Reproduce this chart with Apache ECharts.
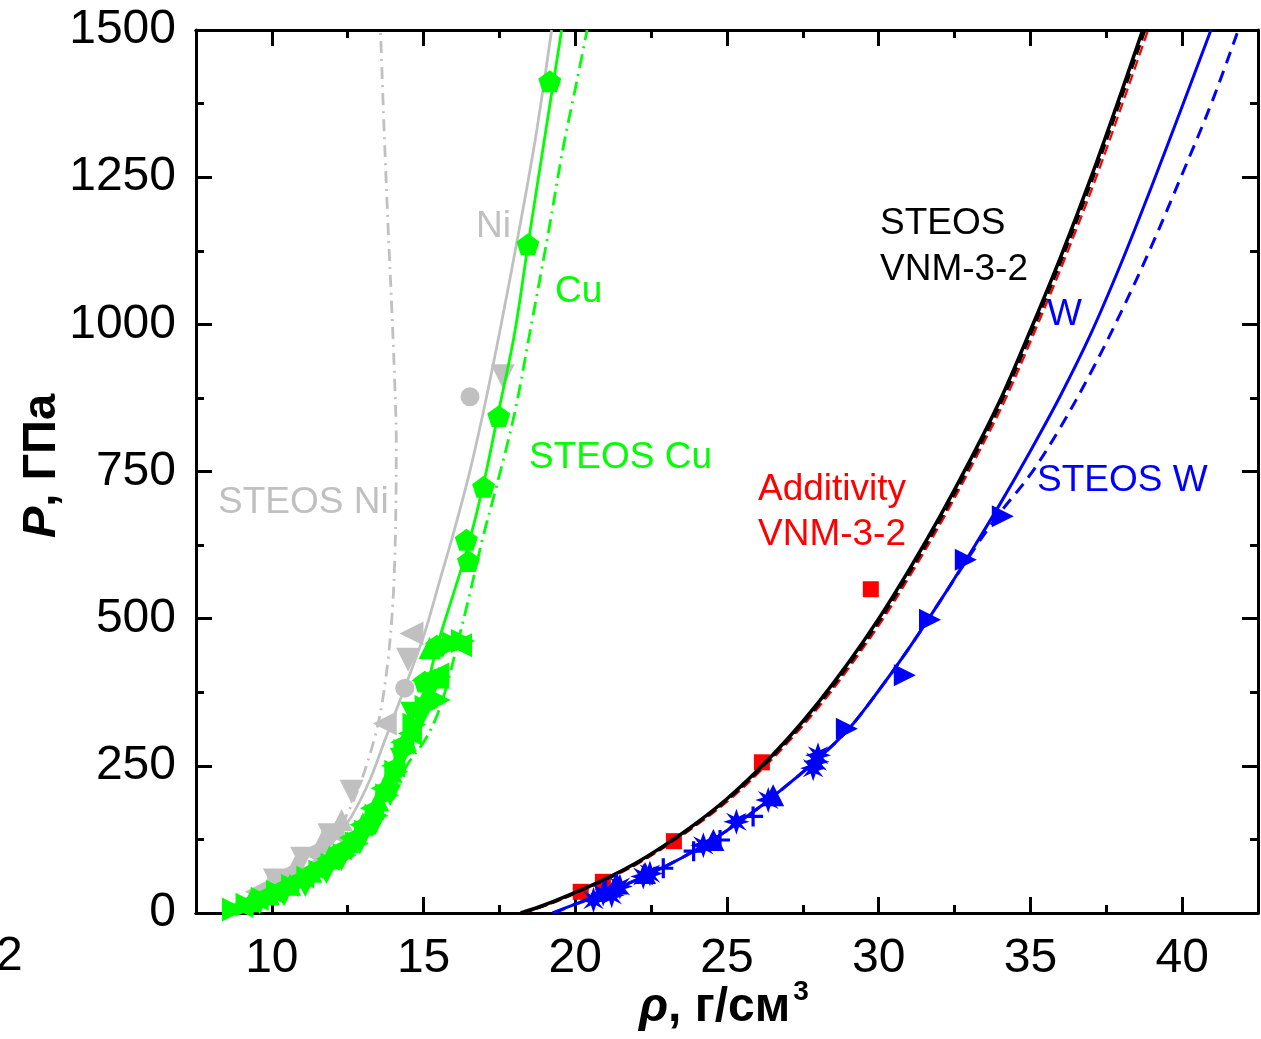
<!DOCTYPE html>
<html>
<head>
<meta charset="utf-8">
<script src="https://cdn.jsdelivr.net/npm/echarts@6.0.0/dist/echarts.min.js"></script>
<style>html,body{margin:0;padding:0;background:#fff}#c{width:1261px;height:1039px}</style>
</head>
<body>
<div id="c"></div>
<script>
// ---------- data ----------
const xMajorTicks = [10, 15, 20, 25, 30, 35, 40];
const xMinorTicks = [12.5, 17.5, 22.5, 27.5, 32.5, 37.5];
const yTicks = [0, 250, 500, 750, 1000, 1250, 1500];

// lines
const niLine = [[9.2,0],[10,28],[11,66],[12,120],[12.6,162],[13.23,226],[13.7,290],[14.38,383],[15,470],[15.54,566],[16,648],[16.5,745],[16.96,849],[17.5,985],[18.17,1166],[18.7,1320],[19.22,1500]];
const steosNi = [[9.2,0],[10,28],[11,68],[12,125],[12.5,170],[12.95,225],[13.4,300],[13.65,362],[13.85,440],[13.98,520],[14.05,600],[14.09,700],[14.1,800],[14.05,900],[13.95,1030],[13.83,1166],[13.7,1330],[13.58,1500]];
const cuLine = [[8.8,0],[9.5,12],[10,22],[11,52],[12,92],[13,148],[14,228],[14.5,280],[15,360],[15.43,450],[16,545],[16.45,620],[16.96,725],[17.46,849],[18.0,985],[18.45,1138],[19.0,1320],[19.55,1500]];
const steosCu = [[8.9,0],[10,22],[11,50],[12,88],[13,140],[14,210],[14.5,255],[15,290],[15.4,330],[15.76,385],[16.09,452],[16.5,537],[16.96,639],[17.4,724],[18.0,849],[18.5,985],[19.11,1155],[19.6,1300],[20.0,1400],[20.39,1500]];
const steosVnm = [[18.2,0],[19,14],[20,35],[21,58],[22,85],[23,117],[24,153],[25,194],[26,242],[27,296],[28,357],[29,425],[30,500],[31,583],[32,672],[33,768],[34,871],[35,990],[36,1115],[37,1250],[38,1395],[38.7,1500]];
const steosVnmDash = [[18.25,0],[19.05,14],[20.05,35],[21.05,58],[22.05,85],[23.05,117],[24.05,153],[25.05,194],[26.05,242],[27.05,296],[28.06,357],[29.06,425],[30.07,500],[31.07,583],[32.07,672],[33.07,768],[34.07,871],[35.07,990],[36.07,1115],[37.07,1250],[38.07,1395],[38.78,1500]];
const additivity = [[18.3,0],[19.1,14],[20.1,35],[21.1,58],[22.1,85],[23.1,117],[24.1,153],[25.12,194],[26.12,242],[27.12,296],[28.14,357],[29.14,425],[30.15,500],[31.15,583],[32.15,672],[33.15,768],[34.16,871],[35.16,990],[36.16,1115],[37.17,1250],[38.17,1395],[38.88,1500]];
const wLine = [[19.25,0],[20,15],[21,34],[22,56],[23,80],[24,108],[25,140],[26,177],[27,218],[28,262],[29,312],[30,378],[31,450],[32,528],[33,610],[34,695],[35,785],[36,880],[37,985],[38,1105],[39,1235],[40,1370],[40.95,1500]];
const steosW = [[19.3,0],[20,15],[21,34],[22,56],[23,80],[24,108],[25,140],[26,177],[27,218],[28,262],[29,312],[30,378],[31,450],[32,528],[33.3,630],[34,680],[35,745],[36,826],[37,919],[38,1022],[39,1134],[40,1255],[41,1380],[41.85,1500]];

// markers
const cuPent = [[19.16,1413],[18.44,1136],[17.48,844],[16.98,724],[16.41,634],[16.48,598],[15.43,454],[15.04,393]];
const cuRight = [[8.75,6],[9.2,14],[9.7,24],[10.2,36],[10.7,46],[11.2,60],[11.6,70],[12.0,82],[12.4,98],[12.8,118],[13.1,138],[13.45,165],[13.8,200],[14.1,240],[14.4,275],[14.7,320],[15.1,350],[15.5,362],[16.0,458],[16.3,462]];
const cuLeft = [[9.0,12],[9.5,24],[10.0,36],[10.5,48],[11.0,62],[11.4,76],[11.85,92],[12.25,110],[12.6,128],[12.95,150],[13.3,178],[13.65,212],[14.0,250],[14.3,290],[14.55,305],[15.0,395],[15.45,405],[16.2,455]];
const cuUp = [[9.3,20],[9.9,32],[10.6,48],[11.3,70],[11.9,96],[12.5,120],[13.0,152],[13.5,192],[13.95,240],[14.4,296],[15.1,370],[15.5,400],[15.2,450]];
const cuDown = [[9.6,16],[10.4,30],[11.1,46],[11.8,68],[12.3,90],[12.9,118],[13.4,150],[13.9,200],[14.25,262],[14.6,340],[14.9,330],[15.35,390]];
const niLeft = [[14.6,475],[13.72,322],[9.5,36],[10.3,62],[11.3,103],[12.0,138]];
const niDown = [[17.61,912],[14.49,430],[12.63,206],[10.1,55],[11.0,92],[11.9,132]];
const niUp = [[9.9,45],[10.8,82],[11.65,120],[12.3,158]];
const niCircle = [[16.53,877],[14.38,382]];
const redSquares = [[20.18,36],[20.91,53],[23.25,122],[26.15,256],[29.74,550]];
const wRight = [[34.09,674],[32.87,600],[31.69,498],[30.86,404],[28.95,313]];
const wStar = [[20.6,22],[20.92,33],[21.2,30],[21.47,45],[22.24,62],[22.46,67],[24.22,115],[25.31,155],[26.36,192],[27.84,246],[27.95,257],[28.0,268]];
const wUp = [[21.36,50],[22.3,68],[24.55,124],[26.52,200]];
const wCross = [[21.0,38],[22.9,76],[24.77,124],[25.86,164],[23.9,105]];

// annotation texts
const labels = [
  {t:'STEOS Ni', x:218, y:503, c:'#c0c0c0'},
  {t:'Ni', x:476, y:227, c:'#c0c0c0'},
  {t:'Cu', x:555, y:292, c:'#00ff00'},
  {t:'STEOS Cu', x:529, y:458, c:'#00ff00'},
  {t:'STEOS', x:880, y:224, c:'#000000'},
  {t:'VNM-3-2', x:880, y:270, c:'#000000'},
  {t:'W', x:1047, y:315, c:'#0000ff'},
  {t:'Additivity', x:758, y:490, c:'#ff0000'},
  {t:'VNM-3-2', x:758, y:535, c:'#ff0000'},
  {t:'STEOS W', x:1037, y:481, c:'#0000ff'}
];

// ---------- chart ----------
const FF = '"Liberation Sans", Arial, Helvetica, sans-serif';
const GREEN = '#00ff00', GRAY = '#c0c0c0', BLUE = '#0000ff', RED = '#ff0000';
const SYM = {
  pent: 'path://M0,-10L9.51,-3.09L5.88,8.09L-5.88,8.09L-9.51,-3.09Z',
  right: 'path://M-8,-8L8,0L-8,8Z',
  left: 'path://M8,-8L-8,0L8,8Z',
  down: 'path://M-8,-8L8,-8L0,8Z',
  up: 'path://M-8,8L8,8L0,-8Z',
  star: 'path://M0,-10L2,-4L8,-7L4,-2L10,0L4,2L8,7L2,4L0,10L-2,4L-8,7L-4,2L-10,0L-4,-2L-8,-7L-2,-4Z',
  cross: 'path://M-1.6,-10L1.6,-10L1.6,-1.6L10,-1.6L10,1.6L1.6,1.6L1.6,10L-1.6,10L-1.6,1.6L-10,1.6L-10,-1.6L-1.6,-1.6Z'
};

function line(data, color, width, type, z) {
  return {type:'line', data, showSymbol:false, smooth:0.35, silent:true, z: z || 3,
    lineStyle:{color, width, type: type || 'solid'}, animation:false};
}
function scat(data, symbol, size, color, z) {
  return {type:'scatter', data, symbol, symbolSize:size, symbolKeepAspect:true, silent:true, z: z || 4,
    itemStyle:{color, opacity:1}, animation:false};
}

const axisLineStyle = {color:'#000', width:3};
function xAx(pos, values, len, withLabels) {
  return {type:'value', min:7.5, max:42.5, position:pos,
    axisLine:{show:true, onZero:false, lineStyle:axisLineStyle},
    axisTick:{show:true, inside:true, length:len, customValues:values, lineStyle:{color:'#000', width:3}},
    axisLabel:{show:withLabels, customValues: values, fontSize:48, color:'#000', fontFamily:FF, margin:22,
      formatter: v => String(v)},
    splitLine:{show:false}};
}
function yAx(pos, withLabels) {
  return {type:'value', min:0, max:1500, interval:250, position:pos,
    axisLine:{show:true, onZero:false, lineStyle:axisLineStyle},
    axisTick:{show:true, inside:true, length:16, lineStyle:{color:'#000', width:3}},
    minorTick:{show:true, splitNumber:2, length:8, lineStyle:{color:'#000', width:3}},
    axisLabel:{show:withLabels, fontSize:48, color:'#000', fontFamily:FF, margin:20,
      formatter: v => String(v)},
    splitLine:{show:false}, minorSplitLine:{show:false}};
}

// measure the x title so the superscript follows it
const mctx = document.createElement('canvas').getContext('2d');
mctx.font = 'italic bold 48px ' + FF;
const wRho = mctx.measureText('ρ').width;
mctx.font = 'bold 48px ' + FF;
const wRest = mctx.measureText(', г/см').width;
const xTitleLeft = 639;

const graphics = labels.map(l => ({type:'text', x:l.x, y:l.y, silent:true, z:100,
  style:{text:l.t, fill:l.c, font:'37px ' + FF, textAlign:'left', textVerticalAlign:'middle'}}));
graphics.push({type:'text', x:42, y:466, rotation:Math.PI/2, silent:true, z:100,
  style:{text:'{i|P}{b|, ГПа}', textAlign:'center', textVerticalAlign:'middle',
    rich:{i:{fontSize:47, fontWeight:'bold', fontStyle:'italic', fontFamily:FF, fill:'#000'},
          b:{fontSize:47, fontWeight:'bold', fontFamily:FF, fill:'#000'}}}});
graphics.push({type:'text', x:xTitleLeft, y:1008, silent:true, z:100,
  style:{text:'{i|ρ}{b|, г/см}', textAlign:'left', textVerticalAlign:'middle',
    rich:{i:{fontSize:48, fontWeight:'bold', fontStyle:'italic', fontFamily:FF, fill:'#000'},
          b:{fontSize:48, fontWeight:'bold', fontFamily:FF, fill:'#000'}}}});
graphics.push({type:'text', x:xTitleLeft + wRho + wRest + 3, y:992, silent:true, z:100,
  style:{text:'3', fill:'#000', font:'bold 28px ' + FF, textAlign:'left', textVerticalAlign:'middle'}});
graphics.push({type:'text', x:-4, y:957, silent:true, z:100,
  style:{text:'2', fill:'#000', font:'48px ' + FF, textAlign:'left', textVerticalAlign:'middle'}});

const chart = echarts.init(document.getElementById('c'), null, {renderer:'canvas'});
chart.setOption({
  backgroundColor:'#fff',
  animation:false,
  grid:{left:196, top:30, right:3, bottom:126, containLabel:false},
  xAxis:[xAx('bottom', xMajorTicks, 16, true), xAx('bottom', xMinorTicks, 8, false),
         xAx('top', xMajorTicks, 16, false), xAx('top', xMinorTicks, 8, false)],
  yAxis:[yAx('left', true), yAx('right', false)],
  series:[
    scat(niLeft, SYM.left, 24, GRAY, 2),
    scat(niUp, SYM.up, 22, GRAY, 2),
    scat(niDown, SYM.down, 24, GRAY, 2),
    scat(niCircle, 'circle', 19, GRAY, 2),
    scat(redSquares, 'rect', 16, RED, 2),
    line(niLine, GRAY, 2.8),
    line(steosNi, GRAY, 2.8, [12,6,2,6]),
    scat(cuRight, SYM.right, 24, GREEN, 4),
    scat(cuLeft, SYM.left, 24, GREEN, 4),
    scat(cuUp, SYM.up, 22, GREEN, 4),
    scat(cuDown, SYM.down, 22, GREEN, 4),
    line(cuLine, GREEN, 2.8),
    line(steosCu, GREEN, 2.8, [14,6,2,6]),
    scat(cuPent, SYM.pent, 23, GREEN, 5),
    line(additivity, RED, 2.2, [10,5]),
    line(steosVnmDash, '#000', 2.8, [10,5]),
    line(steosVnm, '#000', 3.5),
    scat(wStar, SYM.star, 26, BLUE, 4),
    scat(wCross, SYM.cross, 20, BLUE, 4),
    scat(wUp, SYM.up, 22, BLUE, 4),
    line(wLine, BLUE, 3),
    line(steosW, BLUE, 3, [12,8]),
    scat(wRight, SYM.right, 22, BLUE, 5)
  ],
  graphic: graphics
});
</script>
</body>
</html>
